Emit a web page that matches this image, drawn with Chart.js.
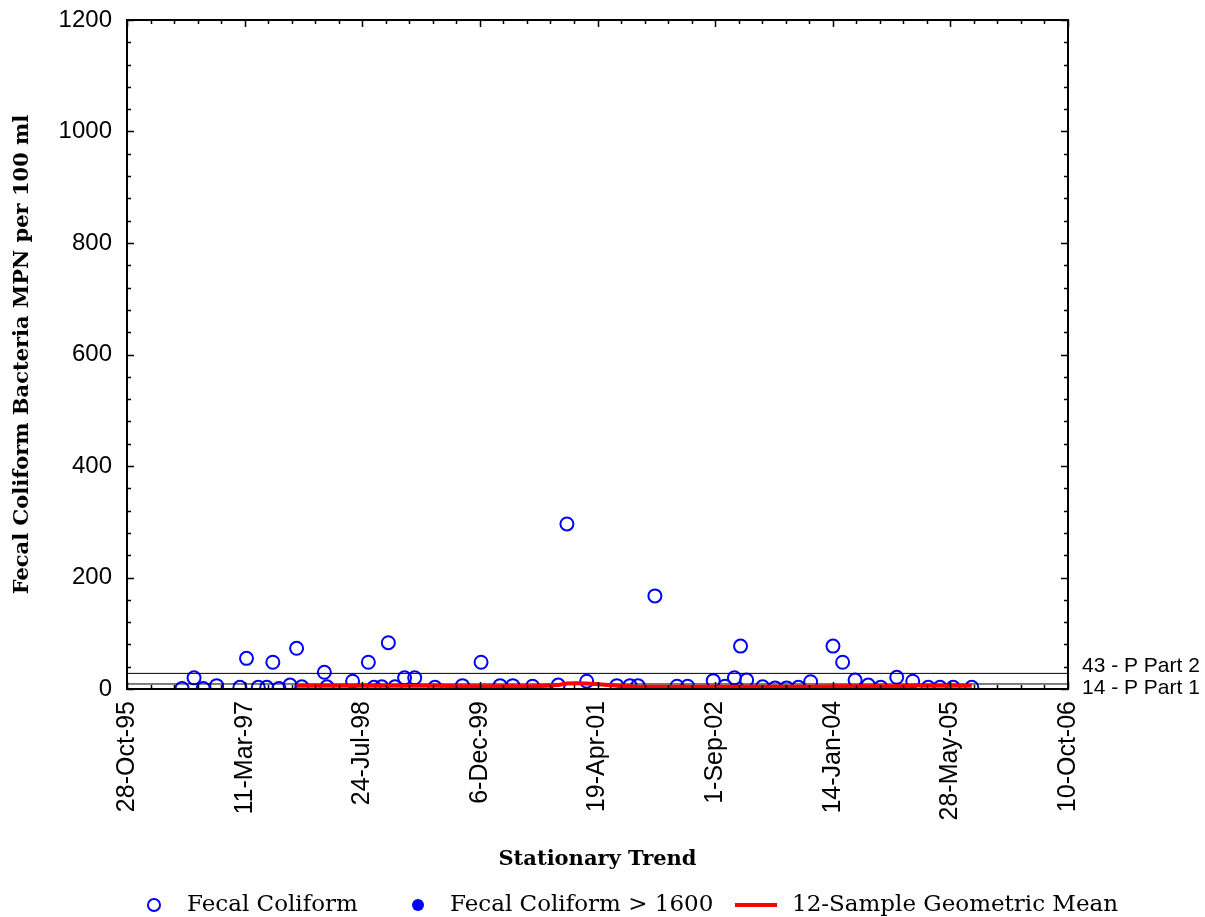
<!DOCTYPE html>
<html>
<head>
<meta charset="UTF-8">
<title>Fecal Coliform - Stationary Trend</title>
<style type="text/css">
body { margin: 0; background: #fff; }
#wrap { width: 1205px; height: 917px; }
</style>
</head>
<body>
	<div id="wrap">
		<canvas id="myChart" width="1205" height="917"></canvas>
	</div>

<script src="https://cdn.jsdelivr.net/npm/chart.js@4"></script>
<script>
	// sample dates
	var sampleDates = [
		'1996-06-18','1996-08-08','1996-09-16','1996-11-12','1997-02-19','1997-03-19','1997-05-08','1997-06-13',
		'1997-07-09','1997-08-04','1997-09-20','1997-10-18','1997-11-09','1998-02-13','1998-02-24','1998-06-13',
		'1998-08-19','1998-09-12','1998-10-15','1998-11-12','1998-12-10','1999-01-20','1999-03-04','1999-05-29',
		'1999-09-23','1999-12-11','2000-03-01','2000-04-24','2000-07-17','2000-11-03','2000-12-10','2001-03-04',
		'2001-07-10','2001-09-04','2001-10-08','2001-12-19','2002-03-23','2002-05-07','2002-08-24','2002-10-13',
		'2002-11-22','2002-12-18','2003-01-13','2003-03-22','2003-05-14','2003-07-02','2003-08-21','2003-10-12',
		'2004-01-15','2004-02-25','2004-04-18','2004-06-13','2004-08-05','2004-10-12','2004-12-19','2005-02-23',
		'2005-04-14','2005-06-09','2005-08-27'
	];
	// Fecal Coliform (MPN per 100 ml)
	var fecalValues = [
		1, 20, 1, 6, 3, 55, 3, 3,
		48, 1, 7, 73, 4, 30, 4, 14,
		48, 3, 4, 83, 4, 20, 20, 3,
		6, 48, 6, 6, 5, 7, 296, 14,
		6, 6, 6, 167, 5, 5, 15, 5,
		20, 77, 16, 4, 2, 2, 3, 13,
		77, 48, 16, 7, 3, 21, 14, 3,
		3, 3, 3
	];
	// 12-sample geometric mean (starts at the 12th sample)
	var geoMeanValues = [
		null, null, null, null, null, null, null, null,
		null, null, null, 6, 6, 6, 6, 6,
		6, 6, 6, 6, 6, 6, 6, 6,
		5, 5, 5, 5, 5, 7, 10, 10,
		6, 5, 4, 4, 4, 4, 4, 4,
		4, 4, 4, 4, 4, 4, 4, 4,
		5, 5, 5, 5, 5, 5, 6, 6,
		6, 6, 6
	];
	// Fecal Coliform > 1600 : no samples
	var over1600Values = [];

	var xTickLabels = ['28-Oct-95','11-Mar-97','24-Jul-98','6-Dec-99','19-Apr-01','1-Sep-02','14-Jan-04','28-May-05','10-Oct-06'];
	var yTickLabels = ['0','200','400','600','800','1000','1200'];
	var refLineValues = [28, 9];
	var refLineLabels = ['43 - P Part 2', '14 - P Part 1'];

	var startDay = Date.UTC(1995, 9, 28);
	function toDay(s) {
		var p = s.split('-');
		return (Date.UTC(+p[0], +p[1] - 1, +p[2]) - startDay) / 86400000;
	}
	var xMax = 4000;

	var fecalPoints = sampleDates.map(function(d, i){ return {x: toDay(d), y: fecalValues[i]}; });
	var geoPoints = [];
	sampleDates.forEach(function(d, i){ if (geoMeanValues[i] !== null) geoPoints.push({x: toDay(d), y: geoMeanValues[i]}); });

	var xTickFont = {family: "'Liberation Sans', Arial, sans-serif", size: 25};
	var yTickFont = {family: "'Liberation Sans', Arial, sans-serif", size: 24};
	var titleFont = {family: "'DejaVu Serif', serif", size: 21, weight: 'bold'};
	var legendFontStr = "23px 'DejaVu Serif', serif";

	// frame, inward ticks, right-hand labels and the legend
	var framePlugin = {
		id: 'frame',
		afterDraw: function(chart) {
			var ctx = chart.ctx, a = chart.chartArea;
			var xs = chart.scales.x, ys = chart.scales.y;
			ctx.save();
			ctx.strokeStyle = '#000';
			ctx.lineWidth = 2;
			ctx.strokeRect(a.left, a.top, a.right - a.left, a.bottom - a.top);
			ctx.lineWidth = 1.5;
			ctx.beginPath();
			for (var d = 0; d <= xMax; d += 100) {
				var px = Math.round(xs.getPixelForValue(d)) + 0.5;
				var len = (d % 500 === 0) ? 7 : 4;
				ctx.moveTo(px, a.bottom); ctx.lineTo(px, a.bottom - len);
				ctx.moveTo(px, a.top); ctx.lineTo(px, a.top + len);
			}
			for (var v = 0; v <= 1200; v += 40) {
				var py = Math.round(ys.getPixelForValue(v)) + 0.5;
				var l2 = (v % 200 === 0) ? 7 : 4;
				ctx.moveTo(a.left, py); ctx.lineTo(a.left + l2, py);
				ctx.moveTo(a.right, py); ctx.lineTo(a.right - l2, py);
			}
			ctx.stroke();

			// reference line labels
			ctx.fillStyle = '#000';
			ctx.font = "21px 'Liberation Sans', Arial, sans-serif";
			ctx.textAlign = 'left';
			ctx.textBaseline = 'middle';
			ctx.fillText(refLineLabels[0], a.right + 14, ys.getPixelForValue(refLineValues[0]) - 7);
			ctx.fillText(refLineLabels[1], a.right + 14, ys.getPixelForValue(refLineValues[1]) + 4);

			// legend
			var ly = 905;
			ctx.font = legendFontStr;
			var items = [
				{kind: 'open', mx: 154, tx: 187, text: 'Fecal Coliform'},
				{kind: 'filled', mx: 418, tx: 450, text: 'Fecal Coliform > 1600'},
				{kind: 'line', mx: 735, tx: 792, text: '12-Sample Geometric Mean'}
			];
			items.forEach(function(it){
				if (it.kind === 'line') {
					ctx.strokeStyle = '#ff0000';
					ctx.lineWidth = 4;
					ctx.beginPath(); ctx.moveTo(it.mx, ly); ctx.lineTo(it.mx + 42, ly); ctx.stroke();
				} else {
					ctx.beginPath();
					ctx.arc(it.mx, ly, 6, 0, Math.PI * 2);
					if (it.kind === 'filled') { ctx.fillStyle = '#0000ff'; ctx.fill(); }
					else { ctx.strokeStyle = '#0000ff'; ctx.lineWidth = 2; ctx.stroke(); }
				}
				ctx.fillStyle = '#000';
				ctx.fillText(it.text, it.tx, ly);
			});
			ctx.restore();
		}
	};

	var ctx = document.getElementById('myChart').getContext('2d');
	var chart = new Chart(ctx, {
		type: 'scatter',
		data: {
			datasets: [{
				label: 'Fecal Coliform',
				data: fecalPoints,
				pointRadius: 6.5,
				pointHoverRadius: 6.5,
				pointBorderWidth: 2,
				borderColor: '#0000ff',
				backgroundColor: 'rgba(0,0,0,0)',
				order: 2
			}, {
				label: 'Fecal Coliform > 1600',
				data: over1600Values,
				pointRadius: 6.5,
				borderColor: '#0000ff',
				backgroundColor: '#0000ff',
				order: 2
			}, {
				label: '12-Sample Geometric Mean',
				type: 'line',
				data: geoPoints,
				borderColor: '#ff0000',
				borderWidth: 4,
				pointRadius: 0,
				tension: 0.3,
				fill: false,
				order: 0
			}, {
				label: refLineLabels[0],
				type: 'line',
				data: [{x: 0, y: refLineValues[0]}, {x: xMax, y: refLineValues[0]}],
				borderColor: '#000',
				borderWidth: 1,
				pointRadius: 0,
				order: 1
			}, {
				label: refLineLabels[1],
				type: 'line',
				data: [{x: 0, y: refLineValues[1]}, {x: xMax, y: refLineValues[1]}],
				borderColor: '#000',
				borderWidth: 1,
				pointRadius: 0,
				order: 1
			}]
		},
		options: {
			responsive: false,
			animation: false,
			devicePixelRatio: 1,
			layout: { padding: {top: 20, right: 137, left: 0, bottom: 0} },
			plugins: {
				legend: { display: false },
				tooltip: { enabled: false }
			},
			scales: {
				x: {
					type: 'linear',
					min: 0,
					max: xMax,
					grid: { display: false, drawTicks: false },
					border: { display: false },
					ticks: {
						stepSize: 500,
						autoSkip: false,
						maxRotation: 90,
						minRotation: 90,
						padding: 12,
						color: '#000',
						font: xTickFont,
						callback: function(value, index) { return xTickLabels[index]; }
					},
					title: {
						display: true,
						text: 'Stationary Trend',
						color: '#000',
						font: titleFont,
						padding: {top: 0, bottom: 45}
					},
					afterFit: function(scale) { scale.height = 917 - 689; }
				},
				y: {
					min: 0,
					max: 1200,
					grid: { display: false, drawTicks: false },
					border: { display: false },
					ticks: {
						stepSize: 200,
						padding: 15,
						color: '#000',
						font: yTickFont,
						callback: function(value, index) { return yTickLabels[index]; }
					},
					title: {
						display: true,
						text: 'Fecal Coliform Bacteria MPN per 100 ml',
						color: '#000',
						font: titleFont,
						padding: {top: 10, bottom: 0}
					},
					afterFit: function(scale) {
						scale.width = 127;
						scale.paddingTop = 0;
						scale.paddingBottom = 0;
					}
				}
			}
		},
		plugins: [framePlugin]
	});
</script>
</body>
</html>
